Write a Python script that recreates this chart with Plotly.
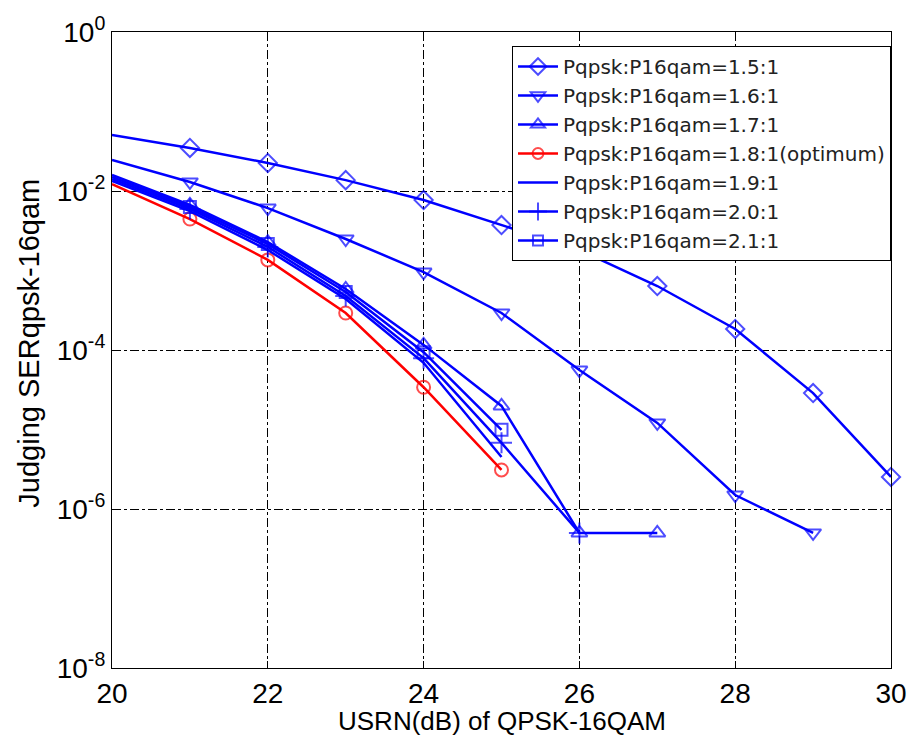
import plotly.graph_objects as go

x_15 = [20, 21, 22, 23, 24, 25, 26, 27, 28, 29, 30]
ser_15 = [0.0506, 0.0348, 0.0225, 0.0137, 0.0077, 0.00373, 0.00181, 6.38e-4, 1.84e-4, 2.87e-5, 2.53e-6]

x_16 = [20, 21, 22, 23, 24, 25, 26, 27, 28, 29]
ser_16 = [0.0245, 0.0130, 0.0061, 0.00249, 9.57e-4, 2.92e-4, 5.6e-5, 1.21e-5, 1.50e-6, 5.0e-7]

x_17 = [20, 21, 22, 23, 24, 25, 26, 27]
ser_17 = [0.0159, 6.67e-3, 2.28e-3, 5.85e-4, 1.16e-4, 1.98e-5, 5.0e-7, 5.0e-7]

x_18 = [20, 21, 22, 23, 24, 25]
ser_18 = [0.0122, 4.44e-3, 1.36e-3, 2.92e-4, 3.4e-5, 3.1e-6]

x_19 = [20, 21, 22, 23, 24, 25]
ser_19 = [0.0134, 5.60e-3, 1.81e-3, 4.38e-4, 6.9e-5, 4.5e-6]

x_20 = [20, 21, 22, 23, 24, 25, 26]
ser_20 = [0.0142, 5.94e-3, 1.98e-3, 4.78e-4, 7.9e-5, 6.8e-6, 5.0e-7]

x_21 = [20, 21, 22, 23, 24, 25]
ser_21 = [0.0150, 6.29e-3, 2.15e-3, 5.37e-4, 9.4e-5, 9.9e-6]

names = ["Pqpsk:P16qam=1.5:1", "Pqpsk:P16qam=1.6:1", "Pqpsk:P16qam=1.7:1",
         "Pqpsk:P16qam=1.8:1(optimum)", "Pqpsk:P16qam=1.9:1",
         "Pqpsk:P16qam=2.0:1", "Pqpsk:P16qam=2.1:1"]

x_ticks = [20, 22, 24, 26, 28, 30]
y_ticks = [1e-8, 1e-6, 1e-4, 1e-2, 1]
y_ticktext = ["10<sup>-8</sup>", "10<sup>-6</sup>", "10<sup>-4</sup>", "10<sup>-2</sup>", "10<sup>0</sup>"]

x_title = "USRN(dB) of QPSK-16QAM"
y_title = "Judging SERqpsk-16qam"

BLUE = "#0000ff"
RED = "#ff0000"
FONT = "Liberation Sans, Arial"

series = [
    (x_15, ser_15, "diamond-open", BLUE, 14),
    (x_16, ser_16, "triangle-down-open", BLUE, 14),
    (x_17, ser_17, "triangle-up-open", BLUE, 14),
    (x_18, ser_18, "circle-open", RED, 13),
    (x_19, ser_19, None, BLUE, 0),
    (x_20, ser_20, "cross-thin-open", BLUE, 15),
    (x_21, ser_21, "square-open", BLUE, 12),
]

fig = go.Figure()
for (xs, ys, sym, col, sz), nm in zip(series, names):
    if sym is None:
        fig.add_trace(go.Scatter(x=xs, y=ys, mode="lines", name=nm,
                                 line=dict(color=col, width=2.5), cliponaxis=False))
    else:
        sizes = [0] + [sz] * (len(xs) - 1)
        fig.add_trace(go.Scatter(x=xs, y=ys, mode="lines+markers", name=nm,
                                 line=dict(color=col, width=2.5), cliponaxis=False,
                                 marker=dict(symbol=sym, size=sizes, color=col,
                                             line=dict(color=col, width=2))))

axis_common = dict(showline=True, linecolor="black", linewidth=1.2, mirror=True,
                   ticks="inside", ticklen=7, tickcolor="black",
                   showgrid=True, gridcolor="black", gridwidth=1, griddash="dashdot",
                   zeroline=False,
                   tickfont=dict(family=FONT, size=28, color="black"))

fig.update_xaxes(range=[20, 30], tickvals=x_ticks, **axis_common)
fig.update_yaxes(type="log", range=[-8, 0], tickvals=y_ticks, ticktext=y_ticktext,
                 **axis_common)

fig.add_annotation(text=x_title, xref="paper", yref="paper", x=0.5, y=0,
                   xanchor="center", yanchor="middle", yshift=-53, showarrow=False,
                   font=dict(family=FONT, size=26, color="black"))
fig.add_annotation(text=y_title, xref="paper", yref="paper", x=0, y=0.51,
                   xanchor="center", yanchor="middle", xshift=-83, textangle=-90,
                   showarrow=False,
                   font=dict(family=FONT, size=29, color="black"))

fig.update_layout(
    width=922, height=739,
    margin=dict(l=112, r=31, t=32, b=71),
    paper_bgcolor="white", plot_bgcolor="white",
    legend=dict(x=1.0, y=0.978, xanchor="right", yanchor="top",
                bgcolor="white", bordercolor="black", borderwidth=1,
                font=dict(family="DejaVu Sans", size=20, color="#222222"),
                tracegroupgap=0, itemwidth=40),
    showlegend=True,
)

fig.write_html("out.html")
